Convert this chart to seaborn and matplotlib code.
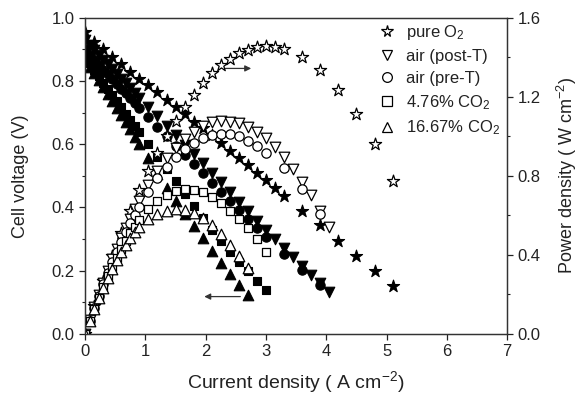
import matplotlib
matplotlib.use("Agg")
import matplotlib.pyplot as plt
import seaborn as sns
import pandas as pd
from matplotlib.ticker import MultipleLocator
from matplotlib.lines import Line2D

sns.set_style("ticks")
plt.rcParams['font.family'] = ['Liberation Sans', 'DejaVu Sans']
plt.rcParams['mathtext.fontset'] = 'custom'
plt.rcParams['mathtext.rm'] = 'Liberation Sans'
plt.rcParams['mathtext.it'] = 'Liberation Sans:italic'

# ---- data ----
labels = ["pure O$_{\\mathrm{2}}$", "air (post-T)", "air (pre-T)",
          "4.76% CO$_{\\mathrm{2}}$", "16.67% CO$_{\\mathrm{2}}$"]
markers = ["*", "v", "o", "s", "^"]

i_o2 = [0, 0.15, 0.3, 0.45, 0.6, 0.75, 0.9, 1.05, 1.2, 1.35, 1.5, 1.65, 1.8, 1.95, 2.1,
        2.25, 2.4, 2.55, 2.7, 2.85, 3.0, 3.15, 3.3, 3.6, 3.9, 4.2, 4.5, 4.8, 5.1]
v_o2 = [0.955, 0.925, 0.900, 0.876, 0.853, 0.830, 0.808, 0.786, 0.764, 0.741, 0.718, 0.695,
        0.672, 0.651, 0.629, 0.604, 0.580, 0.557, 0.533, 0.509, 0.486, 0.461, 0.437, 0.389,
        0.343, 0.294, 0.247, 0.200, 0.152]
p_o2 = [0.0, 0.139, 0.270, 0.394, 0.512, 0.623, 0.727, 0.825, 0.917, 1.000, 1.077, 1.147,
        1.210, 1.269, 1.321, 1.359, 1.392, 1.420, 1.439, 1.451, 1.458, 1.452, 1.442, 1.400,
        1.338, 1.235, 1.112, 0.960, 0.775]

i_post = [0, 0.075, 0.15, 0.225, 0.3, 0.375, 0.45, 0.525, 0.6, 0.675, 0.75, 0.825, 0.9,
          1.05, 1.2, 1.35, 1.5, 1.65, 1.8, 1.95, 2.1, 2.25, 2.4, 2.55, 2.7, 2.85, 3.0, 3.15,
          3.3, 3.45, 3.6, 3.75, 3.9, 4.05]
v_post = [0.930, 0.913, 0.898, 0.883, 0.868, 0.853, 0.838, 0.823, 0.808, 0.793, 0.778, 0.763,
          0.748, 0.718, 0.688, 0.658, 0.628, 0.598, 0.568, 0.540, 0.510, 0.480, 0.448, 0.418,
          0.388, 0.358, 0.330, 0.300, 0.272, 0.242, 0.214, 0.187, 0.160, 0.133]
p_post = [0.0, 0.068, 0.135, 0.199, 0.260, 0.320, 0.377, 0.432, 0.485, 0.535, 0.584, 0.630,
          0.673, 0.754, 0.826, 0.888, 0.942, 0.987, 1.022, 1.053, 1.071, 1.080, 1.075, 1.066,
          1.048, 1.020, 0.990, 0.945, 0.898, 0.835, 0.770, 0.701, 0.624, 0.539]

i_pre = [0, 0.075, 0.15, 0.225, 0.3, 0.375, 0.45, 0.525, 0.6, 0.675, 0.75, 0.825, 0.9,
         1.05, 1.2, 1.35, 1.5, 1.65, 1.8, 1.95, 2.1, 2.25, 2.4, 2.55, 2.7, 2.85, 3.0, 3.3,
         3.6, 3.9]
v_pre = [0.900, 0.882, 0.866, 0.851, 0.836, 0.821, 0.806, 0.791, 0.776, 0.761, 0.746, 0.731,
         0.716, 0.686, 0.656, 0.626, 0.596, 0.567, 0.537, 0.508, 0.479, 0.449, 0.421, 0.392,
         0.362, 0.334, 0.306, 0.254, 0.203, 0.155]
p_pre = [0.0, 0.066, 0.130, 0.191, 0.251, 0.308, 0.363, 0.415, 0.466, 0.514, 0.560, 0.603,
         0.644, 0.720, 0.787, 0.845, 0.894, 0.936, 0.967, 0.991, 1.006, 1.010, 1.010, 1.000,
         0.977, 0.952, 0.918, 0.838, 0.731, 0.605]

i_co2a = [0, 0.075, 0.15, 0.225, 0.3, 0.375, 0.45, 0.525, 0.6, 0.675, 0.75, 0.825, 0.9,
          1.05, 1.2, 1.35, 1.5, 1.65, 1.8, 1.95, 2.1, 2.25, 2.4, 2.55, 2.7, 2.85, 3.0]
v_co2a = [0.885, 0.858, 0.835, 0.815, 0.795, 0.775, 0.756, 0.736, 0.717, 0.697, 0.678, 0.658,
          0.639, 0.600, 0.561, 0.522, 0.483, 0.444, 0.405, 0.368, 0.330, 0.294, 0.260, 0.228,
          0.198, 0.168, 0.138]
p_co2a = [0.0, 0.064, 0.125, 0.183, 0.239, 0.291, 0.340, 0.386, 0.430, 0.470, 0.509, 0.543,
          0.575, 0.630, 0.673, 0.705, 0.725, 0.733, 0.729, 0.718, 0.693, 0.662, 0.624, 0.581,
          0.535, 0.479, 0.414]

i_co2b = [0, 0.075, 0.15, 0.225, 0.3, 0.375, 0.45, 0.525, 0.6, 0.675, 0.75, 0.825, 0.9,
          1.05, 1.2, 1.35, 1.5, 1.65, 1.8, 1.95, 2.1, 2.25, 2.4, 2.55, 2.7]
v_co2b = [0.870, 0.846, 0.824, 0.802, 0.780, 0.758, 0.736, 0.714, 0.692, 0.670, 0.647, 0.624,
          0.600, 0.555, 0.505, 0.462, 0.420, 0.380, 0.341, 0.302, 0.262, 0.224, 0.188, 0.154,
          0.123]
p_co2b = [0.0, 0.063, 0.124, 0.180, 0.234, 0.284, 0.331, 0.375, 0.415, 0.452, 0.485, 0.515,
          0.540, 0.583, 0.606, 0.624, 0.630, 0.627, 0.614, 0.589, 0.550, 0.504, 0.451, 0.393,
          0.332]

series = [(i_o2, v_o2, p_o2), (i_post, v_post, p_post), (i_pre, v_pre, p_pre),
          (i_co2a, v_co2a, p_co2a), (i_co2b, v_co2b, p_co2b)]

x_ticks = [0, 1, 2, 3, 4, 5, 6, 7]
v_ticks = [0.0, 0.2, 0.4, 0.6, 0.8, 1.0]
p_ticks = [0.0, 0.4, 0.8, 1.2, 1.6]

# ---- figure ----
fig = plt.figure(figsize=(5.83, 3.97), dpi=100)
ax = fig.add_axes([0.146, 0.159, 0.724, 0.796])
ax2 = ax.twinx()

sizes = {"*": 85, "v": 58, "o": 45, "s": 40, "^": 58}
for (cur, volt, pw), m, lab in zip(series, markers, labels):
    df = pd.DataFrame({"I": cur, "V": volt, "P": pw})
    sns.scatterplot(data=df, x="I", y="V", ax=ax, marker=m, s=sizes[m],
                    color="black", edgecolor="black", linewidth=0.8, legend=False)
    sns.scatterplot(data=df, x="I", y="P", ax=ax2, marker=m, s=sizes[m],
                    facecolor="white", edgecolor="black", linewidth=0.9, legend=False)

ax.set_xlim(0, 7)
ax.set_ylim(0, 1.0)
ax2.set_ylim(0, 1.6)
ax.set_xticks(x_ticks)
ax.set_yticks(v_ticks)
ax2.set_yticks(p_ticks)
ax.yaxis.set_minor_locator(MultipleLocator(0.1))
ax2.yaxis.set_minor_locator(MultipleLocator(0.2))
ax.set_xticklabels([str(t) for t in x_ticks])
ax.set_yticklabels([f"{t:.1f}" for t in v_ticks])
ax2.set_yticklabels([f"{t:.1f}" for t in p_ticks])

for a in (ax, ax2):
    a.tick_params(axis="both", which="major", direction="out", length=4, width=0.9,
                  labelsize=12, colors="#222222")
    a.tick_params(axis="both", which="minor", direction="out", length=2.5, width=0.8,
                  colors="#222222")
    for sp in a.spines.values():
        sp.set_visible(True)
        sp.set_linewidth(0.9)
        sp.set_color("#333333")

ax.set_xlabel("Current density ( A cm$^{-2}$)", fontsize=14, color="#222222", labelpad=7)
ax.set_ylabel("Cell voltage (V)", fontsize=13, color="#222222", labelpad=16)
ax2.set_ylabel("Power density ( W cm$^{-2}$)", fontsize=13, color="#222222", labelpad=10)

# arrows
ax.annotate("", xy=(1.93, 0.118), xytext=(2.62, 0.118),
            arrowprops=dict(arrowstyle="-|>", color="#333333", lw=0.9, mutation_scale=9))
ax.annotate("", xy=(2.8, 0.84), xytext=(2.28, 0.84),
            arrowprops=dict(arrowstyle="-|>", color="#333333", lw=0.9, mutation_scale=9))

handles = [Line2D([], [], linestyle="none", marker=m, markersize=(8.5 if m == "*" else 7),
                  markerfacecolor="white", markeredgecolor="black", markeredgewidth=0.9)
           for m in markers]
leg = ax2.legend(handles, labels, loc="upper right", frameon=False, fontsize=12,
                 handletextpad=0.5, labelspacing=0.42, borderaxespad=0.0,
                 handlelength=1.2, bbox_to_anchor=(0.998, 1.005))
for t in leg.get_texts():
    t.set_color("#222222")

fig.savefig("out.png", dpi=100)
